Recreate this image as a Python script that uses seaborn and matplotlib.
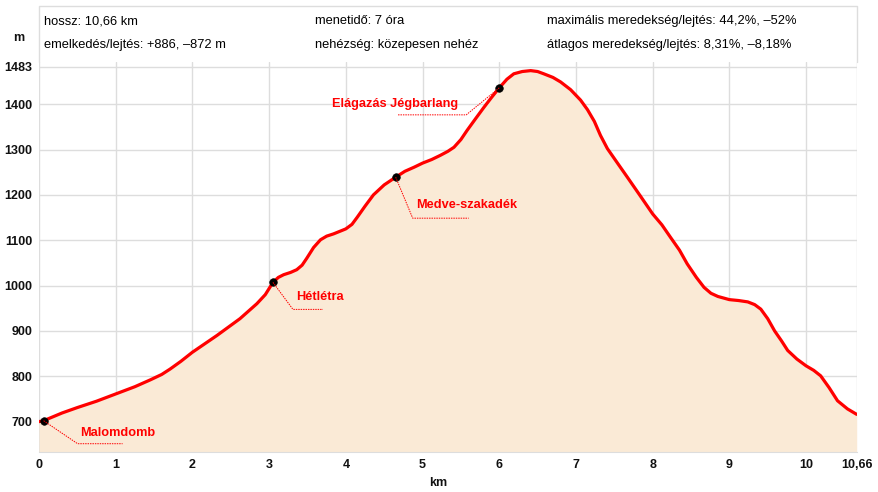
import matplotlib
matplotlib.use("Agg")
import matplotlib.pyplot as plt
from matplotlib.lines import Line2D
import seaborn as sns

# elevation profile (km, m)
km = [0.0, 0.06, 0.3, 0.5, 0.75, 1.0, 1.25, 1.45, 1.6, 1.71, 1.85, 2.0, 2.32,
      2.62, 2.84, 2.95, 3.05, 3.12, 3.19, 3.28, 3.36, 3.43, 3.49, 3.58, 3.67,
      3.75, 3.84, 4.0, 4.08, 4.15, 4.25, 4.36, 4.5, 4.65, 4.77, 4.89, 5.0,
      5.12, 5.23, 5.33, 5.41, 5.5, 5.58, 5.7, 5.8, 5.9, 6.0, 6.1, 6.19, 6.3,
      6.41, 6.5, 6.58, 6.7, 6.8, 6.93, 7.06, 7.15, 7.24, 7.32, 7.41, 7.55,
      7.67, 7.85, 8.0, 8.12, 8.23, 8.35, 8.45, 8.57, 8.67, 8.76, 8.85, 9.0,
      9.12, 9.24, 9.33, 9.41, 9.5, 9.59, 9.68, 9.76, 9.88, 10.0, 10.1, 10.19,
      10.3, 10.41, 10.54, 10.66]
elev = [700, 702, 719, 731, 745, 761, 777, 792, 804, 816, 833, 853, 890,
        927, 960, 980, 1007, 1018, 1024, 1029, 1035, 1045, 1060, 1084, 1101,
        1109, 1114, 1125, 1135, 1151, 1175, 1200, 1222, 1239, 1252, 1261, 1270,
        1278, 1287, 1296, 1305, 1322, 1342, 1370, 1393, 1415, 1436, 1455, 1467, 1472,
        1474, 1472, 1467, 1459, 1449, 1432, 1409, 1388, 1362, 1331, 1302, 1268,
        1239, 1195, 1158, 1134, 1107, 1078, 1048, 1018, 996, 983, 976, 969,
        967, 964, 958, 948, 927, 900, 878, 857, 838, 823, 813, 801,
        775, 746, 728, 716]

wp_names = ["Malomdomb", "Hétlétra", "Medve-szakadék", "Elágazás Jégbarlang"]
wp_km = [0.06, 3.05, 4.65, 6.0]
wp_elev = [702, 1007, 1239, 1436]

x_ticks = [0, 1, 2, 3, 4, 5, 6, 7, 8, 9, 10, 10.66]
x_labels = ["0", "1", "2", "3", "4", "5", "6", "7", "8", "9", "10", "10,66"]
y_ticks = [700, 800, 900, 1000, 1100, 1200, 1300, 1400, 1483]

header = [
    ("hossz: 10,66 km", "menetidő: 7 óra", "maximális meredekség/lejtés: 44,2%, –52%"),
    ("emelkedés/lejtés: +886, –872 m", "nehézség: közepesen nehéz",
     "átlagos meredekség/lejtés: 8,31%, –8,18%"),
]

sns.set_style("white")
plt.rcParams["font.family"] = ["Liberation Sans", "DejaVu Sans"]

W, H = 879, 492
fig = plt.figure(figsize=(W / 100, H / 100), dpi=100)
left, right, top, bottom = 39, 856.7, 62, 452
ax = fig.add_axes([left / W, 1 - bottom / H, (right - left) / W, (bottom - top) / H])

y_min, y_max = 633, 1493
ax.fill_between(km, elev, y_min, color="#faead6", lw=0, zorder=1)
sns.lineplot(x=km, y=elev, color="red", lw=2.3, ax=ax, zorder=3)
sns.scatterplot(x=wp_km, y=wp_elev, color="black", s=30, ax=ax, zorder=4,
                edgecolor="black")

ax.set_xlim(0, 10.66)
ax.set_ylim(y_min, y_max)
ax.set_xticks(x_ticks)
ax.set_xticklabels(x_labels)
ax.set_yticks(y_ticks)
ax.grid(True, color="#dddddd", lw=1, zorder=0)
ax.set_axisbelow(True)
for s in ["left", "right", "top"]:
    ax.spines[s].set_visible(False)
ax.spines["bottom"].set_color("#dddddd")
ax.tick_params(length=0, labelsize=9, pad=5, colors="#111111")
for lbl in ax.get_xticklabels() + ax.get_yticklabels():
    lbl.set_fontweight("bold")
ax.set_xlabel("")
ax.set_ylabel("")

# leader lines (pixel offsets from the waypoint) and labels
leaders = [
    ((34, 23), 79, (37, 12), "left"),
    ((20, 27), 50, (23, 15), "left"),
    ((17, 41), 73, (20, 28), "left"),
    ((-33, 27), -102, (-41, 16), "right"),
]
for name, xk, ye, (elb, end, toff, ha) in zip(wp_names, wp_km, wp_elev, leaders):
    px, py = ax.transData.transform((xk, ye))
    xs = [px, px + elb[0], px + end]
    ys = [py, py - elb[1], py - elb[1]]
    fig.add_artist(Line2D([v / W for v in xs], [v / H for v in ys],
                          transform=fig.transFigure, color="red", lw=0.7,
                          ls=(0, (1.5, 1)), zorder=5))
    fig.text((px + toff[0]) / W, (py - toff[1]) / H, name, ha=ha, va="center",
             color="red", fontsize=9.2, fontweight="bold")

# frame around header
fig.add_artist(Line2D([left / W, left / W, right / W, right / W],
                      [1 - top / H, 1 - 6 / H, 1 - 6 / H, 1 - top / H],
                      transform=fig.transFigure, color="#dddddd", lw=1))

cols = [44, 315, 547]
rows = [21, 45]
for r, row in zip(rows, header):
    for c, txt in zip(cols, row):
        fig.text(c / W, 1 - r / H, txt, ha="left", va="center", fontsize=9.3,
                 color="black")

fig.text(19 / W, 1 - 38 / H, "m", ha="center", va="center", fontsize=9,
         fontweight="bold", color="#111111")
fig.text(438 / W, 1 - 483 / H, "km", ha="center", va="center", fontsize=9,
         fontweight="bold", color="#111111")

fig.savefig("out.png", dpi=100)
